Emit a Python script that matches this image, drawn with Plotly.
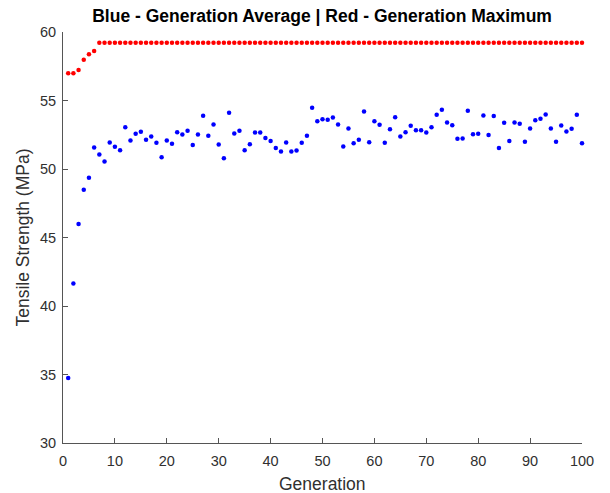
import plotly.graph_objects as go

generations = list(range(1, 101))

avg_strength = [
    34.74, 41.64, 45.98, 48.49, 49.37, 51.57, 51.05, 50.54, 51.93, 51.62,
    51.37, 53.05, 52.08, 52.57, 52.71, 52.13, 52.37, 51.91, 50.86, 52.08,
    51.84, 52.68, 52.52, 52.79, 51.76, 52.52, 53.88, 52.42, 53.25, 51.78,
    50.78, 54.10, 52.59, 52.79, 51.37, 51.81, 52.66, 52.66, 52.27, 52.05,
    51.54, 51.27, 51.93, 51.27, 51.35, 51.91, 52.42, 54.47, 53.49, 53.64,
    53.59, 53.76, 53.25, 51.64, 52.95, 51.88, 52.13, 54.20, 51.95, 53.49,
    53.23, 51.91, 52.90, 53.78, 52.37, 52.68, 53.15, 52.83, 52.83, 52.66,
    53.05, 53.96, 54.32, 53.39, 53.20, 52.20, 52.22, 54.25, 52.54, 52.57,
    53.91, 52.49, 53.86, 51.54, 53.37, 52.05, 53.39, 53.30, 51.98, 52.95,
    53.56, 53.66, 53.98, 52.95, 51.98, 53.17, 52.74, 52.93, 53.96, 51.88,
]

max_strength = [56.98, 56.98, 57.22, 57.98, 58.37, 58.61] + [59.22] * 94

x_ticks = [0, 10, 20, 30, 40, 50, 60, 70, 80, 90, 100]
y_ticks = [30, 35, 40, 45, 50, 55, 60]

font_family = "Liberation Sans, Arial, Helvetica, sans-serif"
axis_color = "#555555"
text_color = "#303030"

fig = go.Figure()
fig.add_trace(go.Scatter(
    x=generations, y=avg_strength, mode="markers", cliponaxis=False,
    marker=dict(color="rgb(0,0,255)", size=4.5, line=dict(width=0)),
    showlegend=False,
))
fig.add_trace(go.Scatter(
    x=generations, y=max_strength, mode="markers", cliponaxis=False,
    marker=dict(color="rgb(255,0,0)", size=4.5, line=dict(width=0)),
    showlegend=False,
))

fig.update_layout(
    width=610, height=493,
    margin=dict(l=63, r=28, t=32, b=50, autoexpand=False),
    paper_bgcolor="white", plot_bgcolor="white",
    font=dict(family=font_family, size=14.5, color=text_color),
    title=dict(
        text="<b>Blue - Generation Average | Red - Generation Maximum</b>",
        x=0.528, xanchor="center", y=0.967, yanchor="middle",
        font=dict(family=font_family, size=17.5, color="#000000"),
    ),
    annotations=[
        dict(text="Generation", xref="paper", yref="paper", x=0.5, y=0,
             xanchor="center", yanchor="middle", yshift=-41, showarrow=False,
             font=dict(size=17.5, color=text_color)),
        dict(text="Tensile Strength (MPa)", xref="paper", yref="paper", x=0, y=0.5,
             xanchor="center", yanchor="middle", xshift=-41, textangle=-90,
             showarrow=False, font=dict(size=17.5, color=text_color)),
    ],
)
fig.update_xaxes(
    range=[0, 100], tickvals=x_ticks, ticktext=[str(v) for v in x_ticks],
    showgrid=False, zeroline=False, automargin=False,
    showline=True, linecolor=axis_color, linewidth=1,
    ticks="inside", ticklen=5, tickcolor=axis_color, ticklabelstandoff=5,
)
fig.update_yaxes(
    range=[30, 60], tickvals=y_ticks, ticktext=[str(v) for v in y_ticks],
    showgrid=False, zeroline=False, automargin=False,
    showline=True, linecolor=axis_color, linewidth=1,
    ticks="inside", ticklen=5, tickcolor=axis_color, ticklabelstandoff=3,
)

fig.write_html("out.html")
